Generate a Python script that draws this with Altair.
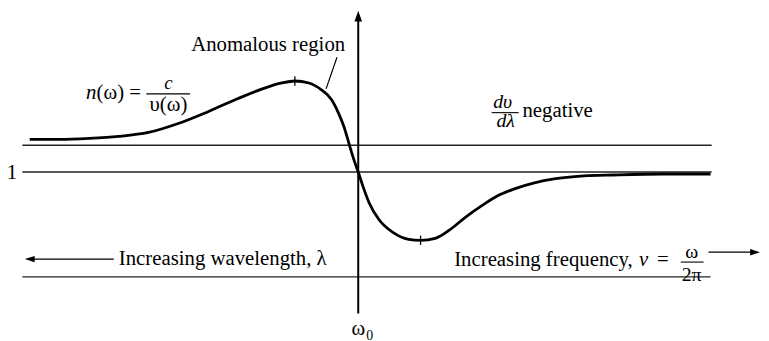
import altair as alt
import pandas as pd

# Dispersion curve n(omega)
# x: (omega - omega0) in arbitrary units, n: relative index
omega = [-9.38, -8.53, -7.68, -6.84, -5.99, -5.14, -4.29, -3.45, -2.74, -2.18, -1.81,
         -1.41, -1.05, -0.76, -0.57, -0.40, -0.25, -0.11, 0.0,
         0.14, 0.31, 0.59, 0.99, 1.44, 1.78, 2.20, 2.63, 3.05, 3.53, 3.98, 4.46,
         5.03, 5.59, 6.44, 7.29, 8.70, 10.06]
n_index = [1.165, 1.165, 1.17, 1.18, 1.20, 1.245, 1.305, 1.37, 1.42, 1.45, 1.46,
           1.45, 1.415, 1.365, 1.30, 1.225, 1.135, 1.055, 1.0,
           0.925, 0.845, 0.76, 0.695, 0.66, 0.655, 0.665, 0.71, 0.77, 0.83, 0.88, 0.915,
           0.945, 0.965, 0.98, 0.985, 0.99, 0.99]

# horizontal reference levels
level_n = [1.135, 1.0, 0.47]
level_x0 = [-9.59, -9.59, -9.59]
level_x1 = [10.09, 10.09, 10.06]

# extrema markers on the curve
extrema_x = [-1.81, 1.78]
extrema_n = [1.46, 0.655]

X_DOM = [-10, 11.5]
Y_DOM = [0.155, 1.82]
FONT = "Liberation Serif"


def xenc(field="x"):
    return alt.X(f"{field}:Q", scale=alt.Scale(domain=X_DOM, nice=False, zero=False), axis=None)


def yenc(field="y"):
    return alt.Y(f"{field}:Q", scale=alt.Scale(domain=Y_DOM, nice=False, zero=False), axis=None)


curve_df = pd.DataFrame({"x": omega, "y": n_index})
curve = alt.Chart(curve_df).mark_line(
    color="black", strokeWidth=2.8, interpolate="monotone"
).encode(x=xenc(), y=yenc())

levels_df = pd.DataFrame({"x": level_x0, "x2": level_x1, "y": level_n})
levels = alt.Chart(levels_df).mark_rule(color="#222222", strokeWidth=1.4).encode(
    x=xenc(), x2="x2:Q", y=yenc()
)

# segments: axis, leader line, fraction bars, arrow shafts
seg_df = pd.DataFrame([
    {"x": 0.0, "y": 0.285, "x2": 0.0, "y2": 1.77, "w": 2.0},
    {"x": -0.607, "y": 1.58, "x2": -0.918, "y2": 1.42, "w": 1.2},
    {"x": -6.05, "y": 1.395, "x2": -4.80, "y2": 1.395, "w": 1.1},
    {"x": 3.81, "y": 1.30, "x2": 4.58, "y2": 1.30, "w": 1.1},
    {"x": 9.21, "y": 0.545, "x2": 9.86, "y2": 0.545, "w": 1.1},
    {"x": -9.30, "y": 0.56, "x2": -6.98, "y2": 0.56, "w": 1.4},
    {"x": 10.00, "y": 0.595, "x2": 11.25, "y2": 0.595, "w": 1.4},
])
segments = alt.Chart(seg_df).mark_rule(color="black").encode(
    x=xenc(), y=yenc(), x2="x2:Q", y2="y2:Q",
    strokeWidth=alt.StrokeWidth("w:Q", scale=None),
)

ext_df = pd.DataFrame({"x": extrema_x, "y": extrema_n})
ticks = alt.Chart(ext_df).mark_point(
    shape="M0,-1L0,1", size=90, color="black", filled=False, strokeWidth=1.3, opacity=1
).encode(x=xenc(), y=yenc())


def arrow(x, y, shape, size):
    return alt.Chart(pd.DataFrame({"x": [x], "y": [y]})).mark_point(
        shape=shape, size=size, filled=True, color="black", opacity=1, strokeWidth=0
    ).encode(x=xenc(), y=yenc())


arrow_up = arrow(0.0, 1.7875, "M0,-1L-0.7,1L0.7,1Z", 121)
arrow_left = arrow(-9.38, 0.56, "M-1,0L1,-0.65L1,0.65Z", 100)
arrow_right = arrow(11.33, 0.595, "M1,0L-1,-0.65L-1,0.65Z", 100)

texts = pd.DataFrame([
    {"x": -4.77, "y": 1.61, "t": "Anomalous region", "a": "left", "s": "normal", "z": 21},
    {"x": -7.77, "y": 1.37, "t": "n", "a": "left", "s": "italic", "z": 21},
    {"x": -7.47, "y": 1.37, "t": "(ω) =", "a": "left", "s": "normal", "z": 21},
    {"x": -5.42, "y": 1.42, "t": "c", "a": "center", "s": "italic", "z": 19},
    {"x": -5.42, "y": 1.31, "t": "υ(ω)", "a": "center", "s": "normal", "z": 21},
    {"x": 4.125, "y": 1.325, "t": "dυ", "a": "center", "s": "italic", "z": 20},
    {"x": 4.21, "y": 1.225, "t": "dλ", "a": "center", "s": "italic", "z": 20},
    {"x": 4.69, "y": 1.28, "t": "negative", "a": "left", "s": "normal", "z": 21},
    {"x": -9.89, "y": 0.965, "t": "1", "a": "center", "s": "normal", "z": 21},
    {"x": -6.837, "y": 0.53, "t": "Increasing wavelength, λ", "a": "left", "s": "normal", "z": 21},
    {"x": 2.74, "y": 0.525, "t": "Increasing frequency,", "a": "left", "s": "normal", "z": 21},
    {"x": 8.02, "y": 0.525, "t": "ν", "a": "left", "s": "italic", "z": 21},
    {"x": 8.53, "y": 0.525, "t": "=", "a": "left", "s": "normal", "z": 21},
    {"x": 9.52, "y": 0.565, "t": "ω", "a": "center", "s": "normal", "z": 20},
    {"x": 9.52, "y": 0.45, "t": "2π", "a": "center", "s": "normal", "z": 20},
    {"x": 0.0, "y": 0.175, "t": "ω", "a": "center", "s": "normal", "z": 21},
    {"x": 0.226, "y": 0.15, "t": "0", "a": "left", "s": "normal", "z": 14},
])

text_layers = []
for (a, s, z), grp in texts.groupby(["a", "s", "z"]):
    text_layers.append(
        alt.Chart(grp).mark_text(
            font=FONT, fontSize=int(z), fontStyle=s, align=a, baseline="alphabetic", color="black"
        ).encode(x=xenc(), y=yenc(), text="t:N")
    )

chart = alt.layer(levels, segments, curve, ticks, arrow_up, arrow_left, arrow_right, *text_layers).properties(
    width=761, height=333, padding=0,
    autosize=alt.AutoSizeParams(type="none"),
    background="white",
).configure_view(stroke=None)

chart.save("out.html", embed_options={"renderer": "svg", "actions": False})
